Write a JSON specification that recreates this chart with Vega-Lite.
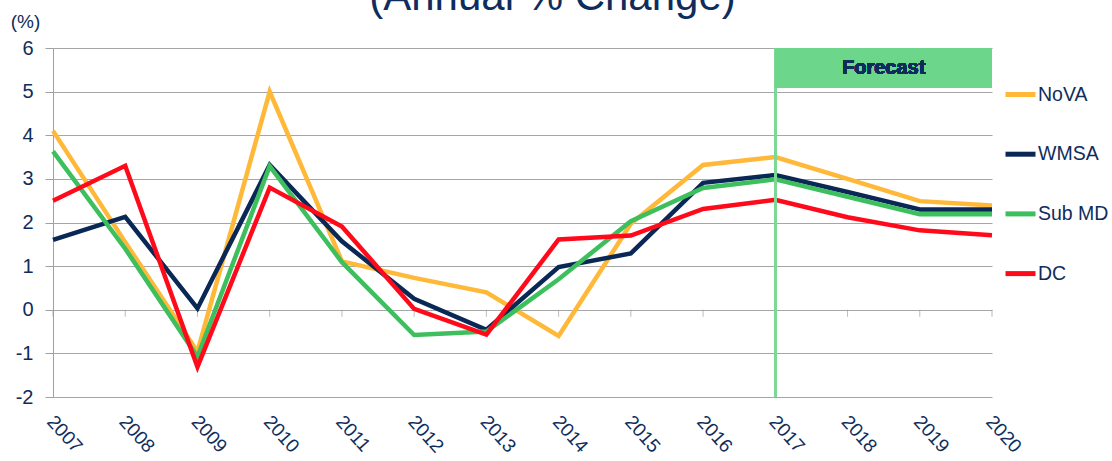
{
  "$schema": "https://vega.github.io/schema/vega-lite/v6.json",
  "width": 939,
  "height": 349,
  "autosize": {"type": "none"},
  "padding": {"left": 53, "top": 48, "right": 120, "bottom": 64},
  "background": "white",
  "config": {"view": {"stroke": null}, "font": "Liberation Sans"},
  "title": {
    "text": "(Annual % Change)",
    "fontSize": 42,
    "fontWeight": "normal",
    "font": "Liberation Sans",
    "color": "#0F2D5C",
    "anchor": "middle",
    "frame": "group",
    "baseline": "alphabetic",
    "offset": 0,
    "dx": 30,
    "dy": 40
  },
  "data": {
    "values": [
      {"year": 2007, "region": "NoVA", "value": 4.1},
      {"year": 2008, "region": "NoVA", "value": 1.55},
      {"year": 2009, "region": "NoVA", "value": -0.96},
      {"year": 2010, "region": "NoVA", "value": 5.0},
      {"year": 2011, "region": "NoVA", "value": 1.11},
      {"year": 2012, "region": "NoVA", "value": 0.73},
      {"year": 2013, "region": "NoVA", "value": 0.4},
      {"year": 2014, "region": "NoVA", "value": -0.6},
      {"year": 2015, "region": "NoVA", "value": 1.97},
      {"year": 2016, "region": "NoVA", "value": 3.32},
      {"year": 2017, "region": "NoVA", "value": 3.5},
      {"year": 2018, "region": "NoVA", "value": 3.0},
      {"year": 2019, "region": "NoVA", "value": 2.49},
      {"year": 2020, "region": "NoVA", "value": 2.39},
      {"year": 2007, "region": "WMSA", "value": 1.6},
      {"year": 2008, "region": "WMSA", "value": 2.13},
      {"year": 2009, "region": "WMSA", "value": 0.03},
      {"year": 2010, "region": "WMSA", "value": 3.32},
      {"year": 2011, "region": "WMSA", "value": 1.57},
      {"year": 2012, "region": "WMSA", "value": 0.25},
      {"year": 2013, "region": "WMSA", "value": -0.46},
      {"year": 2014, "region": "WMSA", "value": 0.98},
      {"year": 2015, "region": "WMSA", "value": 1.29},
      {"year": 2016, "region": "WMSA", "value": 2.91},
      {"year": 2017, "region": "WMSA", "value": 3.09},
      {"year": 2018, "region": "WMSA", "value": 2.7},
      {"year": 2019, "region": "WMSA", "value": 2.3},
      {"year": 2020, "region": "WMSA", "value": 2.3},
      {"year": 2007, "region": "Sub MD", "value": 3.63},
      {"year": 2008, "region": "Sub MD", "value": 1.4},
      {"year": 2009, "region": "Sub MD", "value": -1.08},
      {"year": 2010, "region": "Sub MD", "value": 3.29},
      {"year": 2011, "region": "Sub MD", "value": 1.09},
      {"year": 2012, "region": "Sub MD", "value": -0.58},
      {"year": 2013, "region": "Sub MD", "value": -0.5},
      {"year": 2014, "region": "Sub MD", "value": 0.7},
      {"year": 2015, "region": "Sub MD", "value": 2.03},
      {"year": 2016, "region": "Sub MD", "value": 2.79},
      {"year": 2017, "region": "Sub MD", "value": 2.99},
      {"year": 2018, "region": "Sub MD", "value": 2.59},
      {"year": 2019, "region": "Sub MD", "value": 2.19},
      {"year": 2020, "region": "Sub MD", "value": 2.19},
      {"year": 2007, "region": "DC", "value": 2.5},
      {"year": 2008, "region": "DC", "value": 3.3},
      {"year": 2009, "region": "DC", "value": -1.31},
      {"year": 2010, "region": "DC", "value": 2.8},
      {"year": 2011, "region": "DC", "value": 1.91},
      {"year": 2012, "region": "DC", "value": 0.02},
      {"year": 2013, "region": "DC", "value": -0.57},
      {"year": 2014, "region": "DC", "value": 1.61},
      {"year": 2015, "region": "DC", "value": 1.7},
      {"year": 2016, "region": "DC", "value": 2.31},
      {"year": 2017, "region": "DC", "value": 2.52},
      {"year": 2018, "region": "DC", "value": 2.12},
      {"year": 2019, "region": "DC", "value": 1.82},
      {"year": 2020, "region": "DC", "value": 1.71}
    ]
  },
  "encoding": {
    "x": {
      "field": "year",
      "type": "quantitative",
      "scale": {"domain": [2007, 2020], "nice": false, "zero": false},
      "axis": {
        "title": null,
        "values": [2007, 2008, 2009, 2010, 2011, 2012, 2013, 2014, 2015, 2016, 2017, 2018, 2019, 2020],
        "format": "d",
        "grid": false,
        "domain": false,
        "ticks": false,
        "labelAngle": 48,
        "labelAlign": "left",
        "labelBaseline": "middle",
        "labelPadding": 21,
        "labelOffset": -3,
        "labelFontSize": 19,
        "labelColor": "#0F2D5C",
        "labelFont": "Liberation Sans"
      }
    },
    "y": {
      "field": "value",
      "type": "quantitative",
      "scale": {"domain": [-2, 6], "nice": false},
      "axis": {
        "values": [-2, -1, 0, 1, 2, 3, 4, 5, 6],
        "labelExpr": "datum.value < 0 ? '-' + abs(datum.value) : '' + datum.value",
        "title": "(%)",
        "titleAngle": 0,
        "titleX": -28,
        "titleY": -27,
        "titleAlign": "center",
        "titleBaseline": "middle",
        "titleFontSize": 19,
        "titleFontWeight": "normal",
        "titleColor": "#0F2D5C",
        "titleFont": "Liberation Sans",
        "labelFontSize": 20,
        "labelColor": "#0F2D5C",
        "labelFont": "Liberation Sans",
        "labelPadding": 12,
        "tickSize": 8,
        "tickColor": "#A0A0A0",
        "domainColor": "#A0A0A0",
        "gridColor": "#A6A6A6",
        "gridWidth": 1
      }
    }
  },
  "layer": [
    {
      "transform": [{"filter": "datum.region === 'NoVA'"}],
      "mark": {"type": "tick", "orient": "vertical", "size": 7, "yOffset": 3.5, "color": "#A0A0A0", "thickness": 1},
      "encoding": {"y": {"datum": 0}}
    },
    {
      "mark": {"type": "line", "strokeWidth": 4.5, "strokeJoin": "miter"},
      "encoding": {
        "color": {
          "field": "region",
          "type": "nominal",
          "scale": {
            "domain": ["NoVA", "WMSA", "Sub MD", "DC"],
            "range": ["#FFB838", "#0A2856", "#3CBF5C", "#FF0A1A"]
          },
          "legend": {
            "title": null,
            "orient": "none",
            "legendX": 950,
            "legendY": 29,
            "symbolType": "stroke",
            "symbolSize": 900,
            "symbolStrokeWidth": 5,
            "labelOffset": 0,
            "labelFont": "Liberation Sans",
            "labelFontSize": 19.5,
            "labelColor": "#0F2D5C",
            "rowPadding": 31.7
          }
        }
      }
    },
    {
      "mark": {"type": "rule", "color": "#7DD896", "strokeWidth": 2.5},
      "encoding": {"x": {"datum": 2017}, "y": {"datum": -2}, "y2": {"datum": 6}}
    },
    {
      "mark": {"type": "rect", "color": "#6CD68B"},
      "encoding": {"x": {"datum": 2017}, "x2": {"datum": 2020}, "y": {"datum": 6}, "y2": {"datum": 5.1}}
    },
    {
      "mark": {"type": "text", "text": "Forecast", "font": "Liberation Sans", "fontWeight": "bold", "fontSize": 20, "color": "#0F2D5C", "baseline": "middle", "align": "center"},
      "encoding": {"x": {"datum": 2018.5}, "y": {"datum": 5.55}}
    }
  ]
}
